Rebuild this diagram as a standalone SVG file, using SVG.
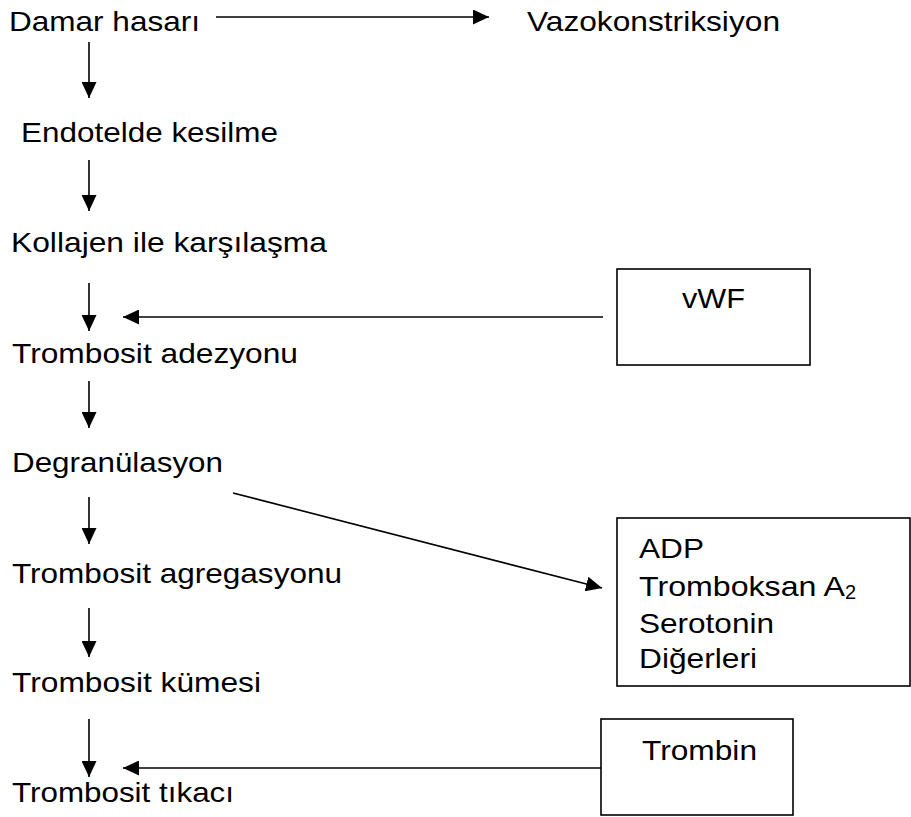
<svg xmlns="http://www.w3.org/2000/svg" width="911" height="817" viewBox="0 0 911 817">
<style>
text{font-family:"Liberation Sans",Arial,sans-serif;font-size:28px;fill:#000}
.sub{font-size:20px}
.ln{stroke:#000;stroke-width:1.6;fill:none}
.box{stroke:#000;stroke-width:1.6;fill:#fff}
</style>
<defs>
<marker id="ah" markerUnits="userSpaceOnUse" markerWidth="16" markerHeight="15" refX="16" refY="7.5" orient="auto">
<path d="M0,0 L16,7.5 L0,15 z" fill="#000"/>
</marker>
</defs>
<rect width="911" height="817" fill="#fff"/>
<g id="connectors">
<line class="ln" x1="216" y1="17" x2="489" y2="17" marker-end="url(#ah)"/>
<line class="ln" x1="89" y1="42" x2="89" y2="98" marker-end="url(#ah)"/>
<line class="ln" x1="89" y1="160" x2="89" y2="211" marker-end="url(#ah)"/>
<line class="ln" x1="89" y1="283" x2="89" y2="331" marker-end="url(#ah)"/>
<line class="ln" x1="603" y1="317" x2="123" y2="317" marker-end="url(#ah)"/>
<line class="ln" x1="89" y1="381" x2="89" y2="428" marker-end="url(#ah)"/>
<line class="ln" x1="89" y1="497" x2="89" y2="544" marker-end="url(#ah)"/>
<line class="ln" x1="233" y1="493" x2="602" y2="588" marker-end="url(#ah)"/>
<line class="ln" x1="89" y1="608" x2="89" y2="657" marker-end="url(#ah)"/>
<line class="ln" x1="89" y1="719" x2="89" y2="777" marker-end="url(#ah)"/>
<line class="ln" x1="601" y1="768" x2="123" y2="768" marker-end="url(#ah)"/>
</g>
<g id="n-damar"><text x="9" y="31" textLength="191" lengthAdjust="spacingAndGlyphs">Damar hasarı</text></g>
<g id="n-vazo"><text x="527" y="31" textLength="253" lengthAdjust="spacingAndGlyphs">Vazokonstriksiyon</text></g>
<g id="n-endotel"><text x="21" y="142" textLength="257" lengthAdjust="spacingAndGlyphs">Endotelde kesilme</text></g>
<g id="n-kollajen"><text x="11" y="252" textLength="316" lengthAdjust="spacingAndGlyphs">Kollajen ile karşılaşma</text></g>
<g id="n-vwf"><rect class="box" x="617" y="269" width="193" height="96"/><text x="682" y="308" textLength="63" lengthAdjust="spacingAndGlyphs">vWF</text></g>
<g id="n-adezyon"><text x="12" y="363" textLength="286" lengthAdjust="spacingAndGlyphs">Trombosit adezyonu</text></g>
<g id="n-degran"><text x="12" y="472" textLength="211" lengthAdjust="spacingAndGlyphs">Degranülasyon</text></g>
<g id="n-agreg"><text x="12" y="583" textLength="330" lengthAdjust="spacingAndGlyphs">Trombosit agregasyonu</text></g>
<g id="n-adp"><rect class="box" x="617" y="518" width="293" height="168"/>
<text x="639" y="558" textLength="65" lengthAdjust="spacingAndGlyphs">ADP</text>
<text x="639" y="596"><tspan textLength="206" lengthAdjust="spacingAndGlyphs">Tromboksan A</tspan><tspan class="sub" dy="3">2</tspan></text>
<text x="639" y="633" textLength="135" lengthAdjust="spacingAndGlyphs">Serotonin</text>
<text x="639" y="668" textLength="118" lengthAdjust="spacingAndGlyphs">Diğerleri</text>
</g>
<g id="n-kume"><text x="12" y="692" textLength="249" lengthAdjust="spacingAndGlyphs">Trombosit kümesi</text></g>
<g id="n-trombin"><rect class="box" x="601" y="719" width="192" height="96"/><text x="642" y="760" textLength="115" lengthAdjust="spacingAndGlyphs">Trombin</text></g>
<g id="n-tikac"><text x="12" y="802" textLength="222" lengthAdjust="spacingAndGlyphs">Trombosit tıkacı</text></g>
</svg>
